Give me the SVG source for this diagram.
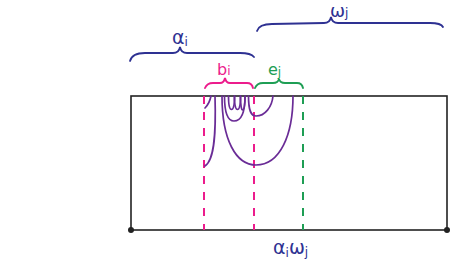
<svg xmlns="http://www.w3.org/2000/svg" width="458" height="275" viewBox="0 0 458 275">
<style>
.navy{stroke:#2e3192;fill:none;stroke-width:1.8;stroke-linecap:round}
.mag{stroke:#ec1c8c;fill:none;stroke-width:1.9;stroke-linecap:round}
.grn{stroke:#1e9e54;fill:none;stroke-width:1.9;stroke-linecap:round}
.dm{stroke:#ec1c8c;fill:none;stroke-width:2;stroke-dasharray:8 8}
.dg{stroke:#1e9e54;fill:none;stroke-width:2;stroke-dasharray:8 8}
.arc{stroke:#6a2c96;fill:none;stroke-width:1.7;stroke-linecap:round}
.box{stroke:#222;fill:none;stroke-width:1.6}
.t{font-family:"DejaVu Sans","Liberation Sans",sans-serif}
.tn{fill:#2e3192}
.tm{fill:#ec1c8c}
.tg{fill:#1e9e54}
</style>
<rect fill="#fff" x="0" y="0" width="458" height="275"/>
<g id="frame">
<rect class="box" x="131" y="96" width="316" height="134"/>
<circle cx="131" cy="230" r="3" fill="#222"/>
<circle cx="447" cy="230" r="3" fill="#222"/>
</g>
<g id="connectors">
<line class="dm" x1="204" y1="96" x2="204" y2="230"/>
<line class="dm" x1="254" y1="96" x2="254" y2="230"/>
<line class="dg" x1="303" y1="96" x2="303" y2="230"/>
<path class="arc" d="M211,96 C210,101 208,105 205,108"/>
<path class="arc" d="M215,96 C216,130 215,160 205,166"/>
<path class="arc" d="M222,96 C222,140 236,165 256,165 C280,165 293,135 293,96"/>
<path class="arc" d="M224.5,96 C224.5,114 228,121 234,121 C241,121 245,114 245,96"/>
<path class="arc" d="M228.5,96 C228.5,106 230,109.5 231.5,109.5 C233,109.5 234.5,106 234.5,96"/>
<path class="arc" d="M234.5,96 C234.5,106 236,109.5 237.5,109.5 C239,109.5 240.5,106 240.5,96"/>
<path class="arc" d="M240.5,96 C240.5,106 241.5,110 242.5,110 C244,110 245,106 245,96"/>
<path class="arc" d="M248.5,96 C248.5,111 251,116 256,116 C265,116 272,107 273,96"/>
</g>
<g id="brace-alpha">
<path class="navy" d="M130,61 Q132,53 145,53 L173,53 Q179,53 180,47 Q181,53 187,53 L240,53 Q251,53 254,57"/>
<text class="t tn" x="172" y="44" font-size="19">α<tspan font-size="12" dy="2">i</tspan></text>
</g>
<g id="brace-omega">
<path class="navy" d="M257,31 Q259,24 272,24 L324,23 Q330,23 331,17 Q332,23 338,23 L430,23 Q441,23 443,27"/>
<text class="t tn" x="330" y="17" font-size="18">ω<tspan font-size="12" dy="0">j</tspan></text>
</g>
<g id="brace-b">
<path class="mag" d="M205,88 Q207,83 213,83 L220,83 Q224,83 225,78 Q226,83 230,83 L247,83 Q252,83 253,88"/>
<text class="t tm" x="217" y="75" font-size="16">b<tspan font-size="12" dy="0">i</tspan></text>
</g>
<g id="brace-e">
<path class="grn" d="M255,88 Q257,83 263,83 L273,83 Q278,83 279,79 Q280,83 285,83 L297,83 Q302,83 303,88"/>
<text class="t tg" x="268" y="75" font-size="16">e<tspan font-size="12" dy="1">j</tspan></text>
</g>
<g id="label-bottom">
<text class="t tn" x="273" y="254" font-size="19">α<tspan font-size="12" dy="3">i</tspan><tspan font-size="19" dy="-3">ω</tspan><tspan font-size="12" dy="2">j</tspan></text>
</g>
</svg>
